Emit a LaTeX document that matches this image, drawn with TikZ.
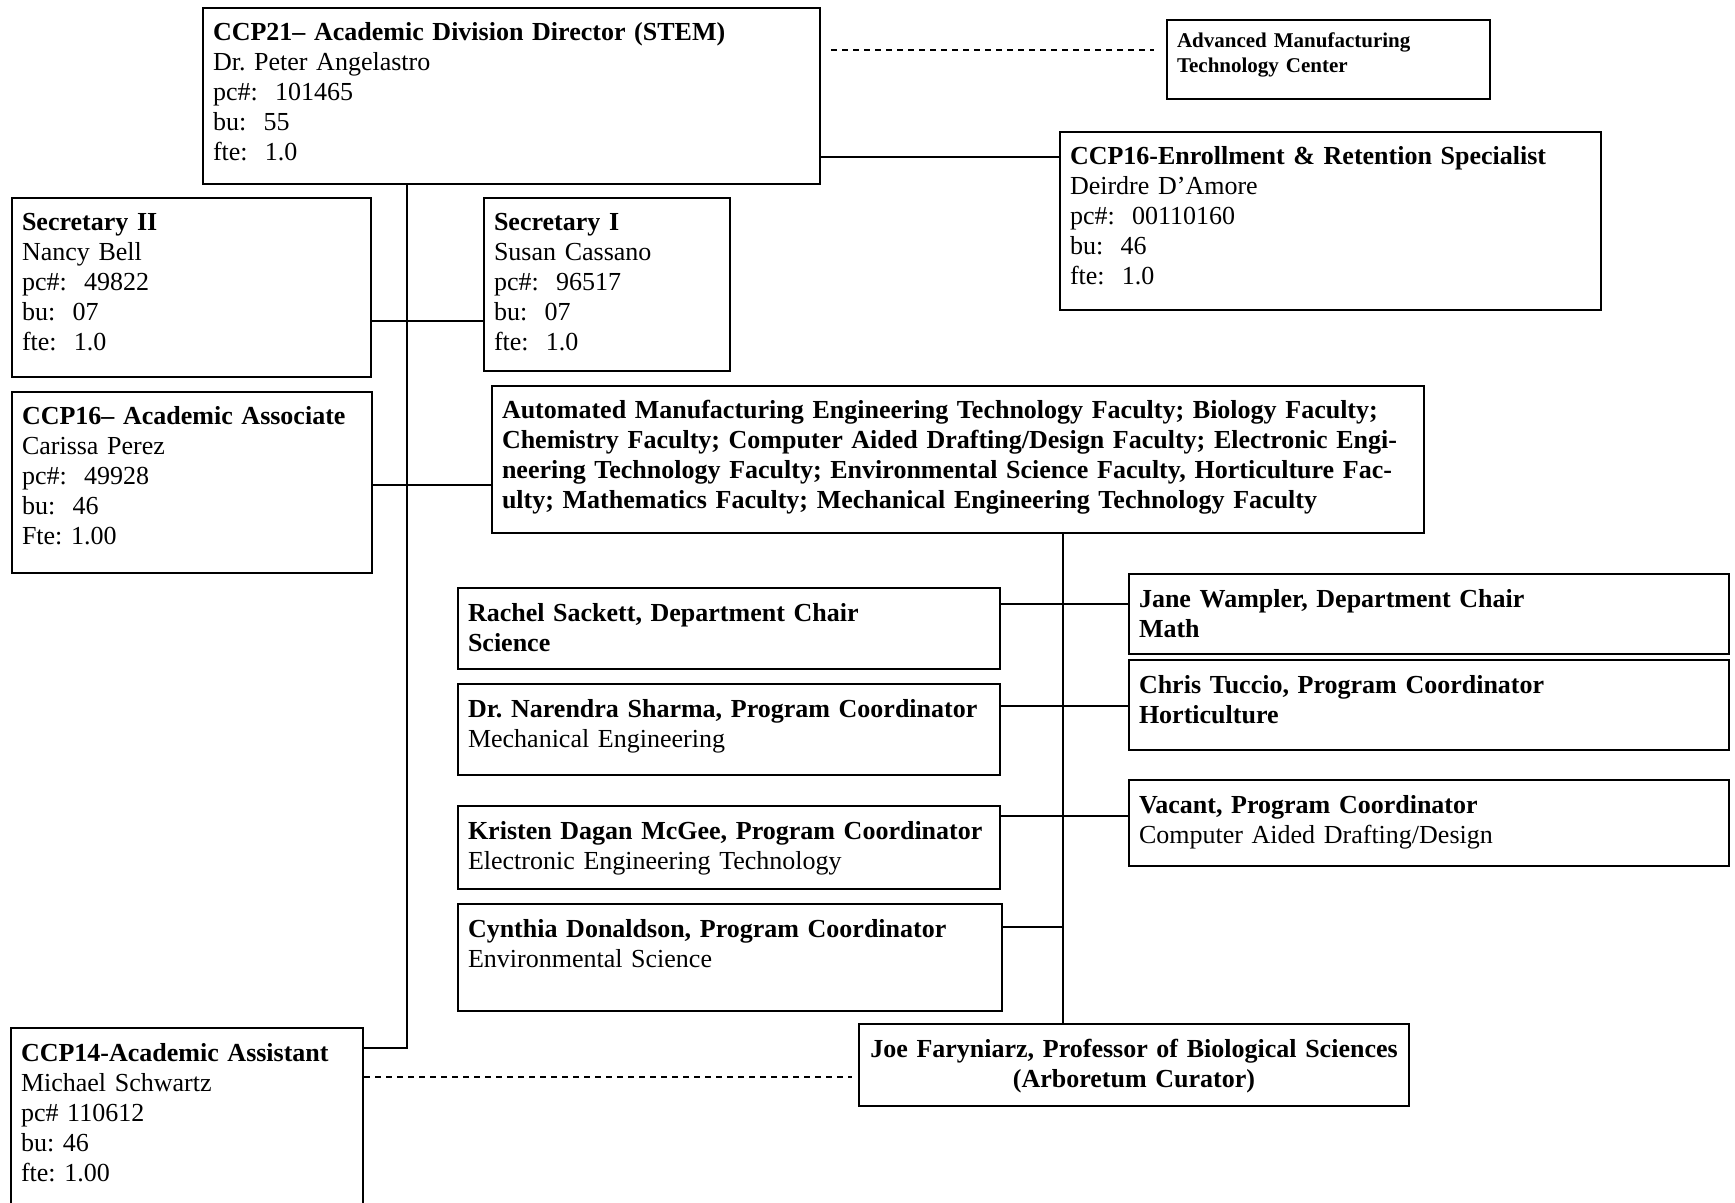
\documentclass[tikz,border=0pt]{standalone}
\usepackage{fontspec}
\setmainfont{Liberation Serif}
\frenchspacing
\tikzset{
  unit/.style={draw, rectangle, line width=1pt, anchor=north west, inner xsep=5pt, inner ysep=0pt,
    align=left, text height=16.5pt, font=\fontsize{13}{15}\selectfont},
  link/.style={line width=0.9pt},
  dashlink/.style={line width=0.9pt, dash pattern=on 3pt off 2.5pt}
}

\begin{document}
\begin{tikzpicture}[x=0.5pt, y=-0.5pt]
\useasboundingbox (0,0) rectangle (1735,1203);
\clip (0,0) rectangle (1735,1203);
\fill[white] (0,0) rectangle (1735,1203);

% Division director
\node[unit, text width=298.5pt, text depth=71.5pt] (dir) at (202,7) {\textbf{CCP21-- Academic Division Director (STEM)}\\ Dr. Peter Angelastro\\ pc\#:~~101465\\ bu:~~55\\ fte:~~1.0};

% Manufacturing center
\node[unit, font=\fontsize{10.5}{12.5}\selectfont\bfseries, text height=14pt, text width=151.5pt, text depth=25.5pt] (amtc) at (1166,19) {Advanced Manufacturing\\ Technology Center};

% Enrollment specialist
\node[unit, text width=260.5pt, text depth=72.5pt] (enr) at (1059,131) {\textbf{CCP16-Enrollment \& Retention Specialist}\\ Deirdre D'Amore\\ pc\#:~~00110160\\ bu:~~46\\ fte:~~1.0};

% Secretaries
\node[unit, text width=169.5pt, text depth=73pt] (sec2) at (11,197) {\textbf{Secretary II}\\ Nancy Bell\\ pc\#:~~49822\\ bu:~~07\\ fte:~~1.0};
\node[unit, text width=113pt, text depth=70pt] (sec1) at (483,197) {\textbf{Secretary I}\\ Susan Cassano\\ pc\#:~~96517\\ bu:~~07\\ fte:~~1.0};

% Academic associate
\node[unit, text width=170pt, text depth=74pt] (assoc) at (11,391) {\textbf{CCP16-- Academic Associate}\\ Carissa Perez\\ pc\#:~~49928\\ bu:~~46\\ Fte: 1.00};

% Faculty
\node[unit, text width=456pt, text depth=57pt] (fac) at (491,385) {\parbox[t]{450pt}{\tolerance=9999 \bfseries Automated Manufacturing Engineering Technology Faculty; Biology Faculty;\linebreak Chemistry Faculty; Computer Aided Drafting/Design Faculty; Electronic Engi-\linebreak neering Technology Faculty; Environmental Science Faculty, Horticulture Fac-\linebreak ulty; Mathematics Faculty; Mechanical Engineering Technology Faculty}};

% Chairs and coordinators, left column
\node[unit, text width=261pt, text depth=24pt] (rachel) at (457,587) {\textbf{Rachel Sackett, Department Chair}\\ \textbf{Science}};
\node[unit, text width=261pt, text depth=29pt] (naren) at (457,683) {\textbf{Dr. Narendra Sharma, Program Coordinator}\\ Mechanical Engineering};
\node[unit, text width=261pt, text depth=25pt] (kristen) at (457,805) {\textbf{Kristen Dagan McGee, Program Coordinator}\\ Electronic Engineering Technology};
\node[unit, text width=262pt, text depth=37pt] (cynthia) at (457,903) {\textbf{Cynthia Donaldson, Program Coordinator}\\ Environmental Science};

% Chairs and coordinators, right column
\node[unit, text width=290pt, text depth=23.5pt] (jane) at (1128,573) {\textbf{Jane Wampler, Department Chair}\\ \textbf{Math}};
\node[unit, text width=290pt, text depth=28.5pt] (chris) at (1128,659) {\textbf{Chris Tuccio, Program Coordinator}\\ \textbf{Horticulture}};
\node[unit, text width=290pt, text depth=26.5pt] (vacant) at (1128,779) {\textbf{Vacant, Program Coordinator}\\ Computer Aided Drafting/Design};

% Professor
\node[unit, align=center, text width=265pt, text depth=24.5pt] (joe) at (858,1023) {\textbf{Joe Faryniarz, Professor of Biological Sciences}\\ \textbf{(Arboretum Curator)}};

% Academic assistant
\node[unit, text width=166pt, text depth=108.5pt] (ccp14) at (10,1027) {\textbf{CCP14-Academic Assistant}\\ Michael Schwartz\\ pc\# 110612\\ bu: 46\\ fte: 1.00};

% Director lines
\coordinate (dirtrunk) at (407,1048);
\draw[link] (dir.south -| dirtrunk) -- (dirtrunk) -- (dirtrunk -| ccp14.east);
\coordinate (secrow) at (407,321);
\draw[link] (secrow -| sec2.east) -- (secrow -| sec1.west);
\coordinate (assocrow) at (407,485);
\draw[link] (assocrow -| assoc.east) -- (assocrow -| fac.west);
\coordinate (enrrow) at (900,157);
\draw[link] (enrrow -| dir.east) -- (enrrow -| enr.west);
\coordinate (amtcrow) at (1000,50);
\draw[dashlink, shorten <=5pt, shorten >=6pt] (amtcrow -| dir.east) -- (amtcrow -| amtc.west);

% Faculty lines
\coordinate (factrunk) at (1063,600);
\draw[link] (fac.south -| factrunk) -- (joe.north -| factrunk);
\coordinate (row1) at (1063,604);
\draw[link] (row1 -| rachel.east) -- (row1 -| jane.west);
\coordinate (row2) at (1063,706);
\draw[link] (row2 -| naren.east) -- (row2 -| chris.west);
\coordinate (row3) at (1063,816);
\draw[link] (row3 -| kristen.east) -- (row3 -| vacant.west);
\coordinate (row4) at (1063,927);
\draw[link] (row4 -| cynthia.east) -- (row4);

% Assistant to professor
\coordinate (joerow) at (600,1077);
\draw[dashlink, shorten >=3pt] (joerow -| ccp14.east) -- (joerow -| joe.west);
\end{tikzpicture}
\end{document}
